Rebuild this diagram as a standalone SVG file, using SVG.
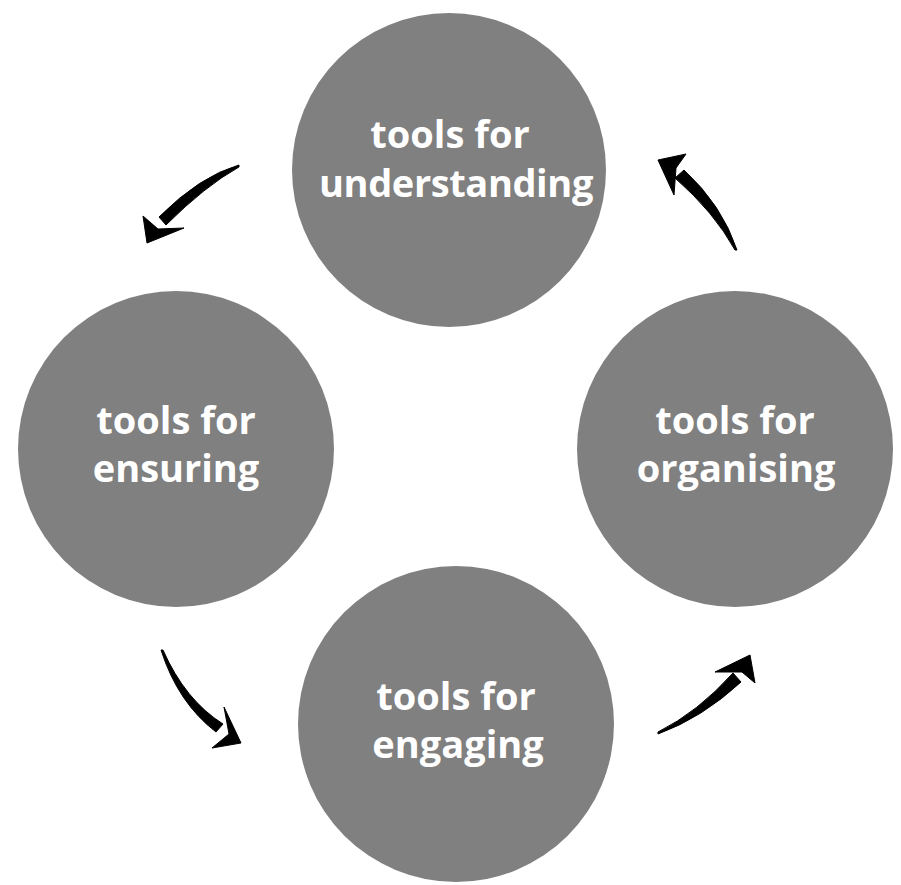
<svg xmlns="http://www.w3.org/2000/svg" width="901" height="885" viewBox="0 0 901 885">
  <style>
    .node circle { fill: #808080; }
    .node text { fill: #ffffff; font-family: "Open Sans", "DejaVu Sans", sans-serif; font-weight: bold; font-size: 38px; text-anchor: middle; }
    .arrow path { fill: #000000; stroke: #000000; stroke-width: 1; stroke-linejoin: round; }
  </style>
  <rect width="901" height="885" fill="#ffffff"/>

  <g id="node-understanding" class="node">
    <circle cx="449" cy="170" r="157"/>
    <text x="450" y="148">tools for</text>
    <text x="456" y="197" letter-spacing="-0.4">understanding</text>
  </g>
  <g id="node-ensuring" class="node">
    <circle cx="176" cy="449" r="158"/>
    <text x="176" y="434">tools for</text>
    <text x="176" y="482">ensuring</text>
  </g>
  <g id="node-organising" class="node">
    <circle cx="735" cy="449" r="158"/>
    <text x="735" y="434">tools for</text>
    <text x="736" y="482">organising</text>
  </g>
  <g id="node-engaging" class="node">
    <circle cx="456" cy="724" r="158"/>
    <text x="456" y="710">tools for</text>
    <text x="458" y="758">engaging</text>
  </g>

  <!-- brush-stroke arrows running anticlockwise round the cycle -->
  <g id="connectors" class="arrow">
    <g id="arrow-understanding-ensuring">
      <path d="M239,165 Q200,176 159,217 L166,225 Q205,186 239,167 Z"/>
      <path d="M143,216 L158,229 L184,228 L147,243 Z"/>
    </g>
    <g id="arrow-organising-understanding">
      <path d="M737,250 Q722,205 684,170 L675,178 Q714,212 735,250 Z"/>
      <path d="M658,160 L686,154 L676,168 L674,195 Z"/>
    </g>
    <g id="arrow-ensuring-engaging">
      <path d="M161,650 Q178,703 216,732 L223,724 Q185,700 163,650 Z"/>
      <path d="M224,707 L229,734 L212,748 L241,743 Z"/>
    </g>
    <g id="arrow-engaging-organising">
      <path d="M658,734 Q702,718 741,682 L733,673 Q698,712 658,732 Z"/>
      <path d="M715,672 L742,672 L755,683 L750,655 Z"/>
    </g>
  </g>
</svg>
